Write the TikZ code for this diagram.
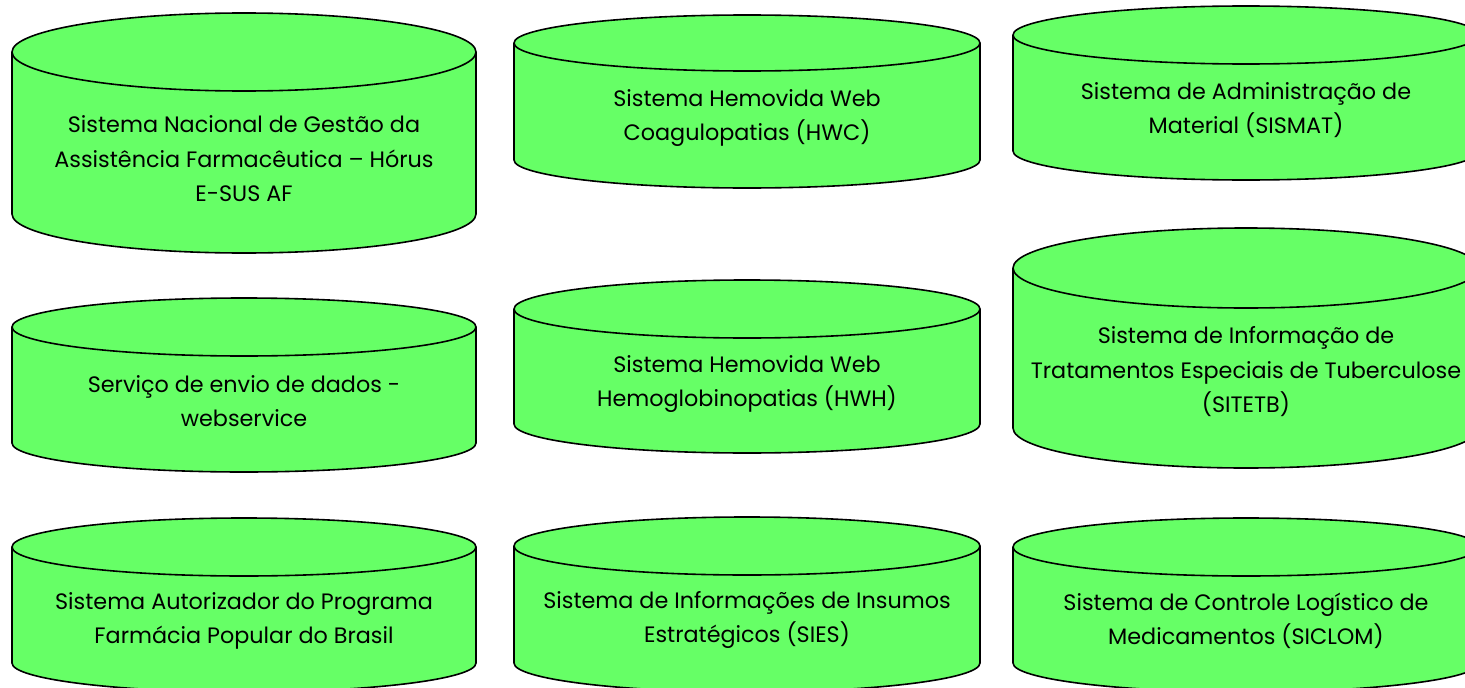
\documentclass[tikz,border=0pt]{standalone}
\usepackage{fontspec}
\setmainfont{Poppins}
\definecolor{cylgreen}{HTML}{66FF66}
\tikzset{
  cylbody/.style={fill=cylgreen, draw=black, line width=1.6pt, line join=round},
  cylline/.style={draw=black, line width=1.6pt},
  cyltext/.style={align=center, font=\fontsize{22.3}{34.5}\selectfont, text=black, inner sep=0pt}
}
% name, x1, x2, ytop, ybot, ry, ytext, text
\newcommand\dbcyl[8]{%
  \pgfmathsetmacro\cylcx{(#2+#3)/2}%
  \pgfmathsetmacro\cylrx{(#3-#2)/2}%
  \pgfmathsetmacro\cylyA{#4+#6}%
  \pgfmathsetmacro\cylyB{#5-#6}%
  \path[cylbody] (#2,\cylyA) -- (#2,\cylyB)
     arc[start angle=180,end angle=0,x radius=\cylrx,y radius=#6]
     -- (#3,\cylyA)
     arc[start angle=0,end angle=-180,x radius=\cylrx,y radius=#6] -- cycle;
  \path[cylline] (#2,\cylyA) arc[start angle=180,end angle=0,x radius=\cylrx,y radius=#6];
  \node[cyltext] (#1) at (\cylcx,#7) {#8};%
}
\begin{document}
\begin{tikzpicture}[x=1pt,y=-1pt]
\useasboundingbox (0,0) rectangle (1465,688);
\clip (0,0) rectangle (1465,688);
\dbcyl{horus}{12}{476}{13}{253}{39}{159}{Sistema Nacional de Gestão da\\Assistência Farmacêutica – Hórus\\E-SUS AF}
\dbcyl{hwc}{514}{980}{15}{188}{28}{118}{Sistema Hemovida Web\\Coagulopatias (HWC)}
\dbcyl{sismat}{1013}{1479}{6}{180}{29}{110}{Sistema de Administração de\\Material (SISMAT)}
\dbcyl{webservice}{12}{476}{298}{472}{29}{401}{Serviço de envio de dados -\\webservice}
\dbcyl{hwh}{514}{980}{280}{453}{29}{384}{Sistema Hemovida Web\\Hemoglobinopatias (HWH)}
\dbcyl{sitetb}{1013}{1479}{228}{468}{40}{372}{Sistema de Informação de\\Tratamentos Especiais de Tuberculose\\(SITETB)}
\dbcyl{farmpop}{12}{476}{518}{692}{29}{621}{Sistema Autorizador do Programa\\Farmácia Popular do Brasil}
\dbcyl{sies}{514}{980}{517}{692}{29}{620}{Sistema de Informações de Insumos\\Estratégicos (SIES)}
\dbcyl{siclom}{1013}{1479}{518}{692}{29}{621}{Sistema de Controle Logístico de\\Medicamentos (SICLOM)}
\end{tikzpicture}
\end{document}
